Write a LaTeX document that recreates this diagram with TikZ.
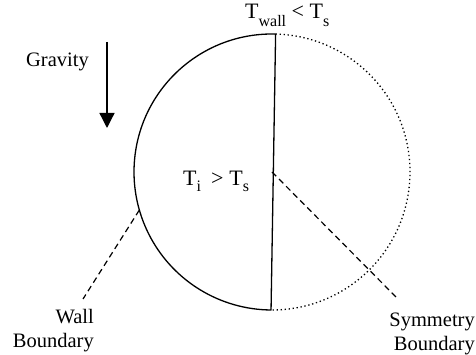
\documentclass[tikz,border=0pt]{standalone}
\usepackage{fontspec}
\setmainfont{Liberation Serif}
\usepackage{tikz}
\usetikzlibrary{arrows.meta,calc}

\newcommand{\subtxt}[2][6pt]{\raisebox{-#1}{\fontsize{16}{16}\selectfont #2}}

\begin{document}
\begin{tikzpicture}[x=1pt, y=1pt,
    label/.style={font=\fontsize{20.5}{24}\selectfont, inner sep=0pt},
    temp/.style={font=\fontsize{22}{24}\selectfont, inner sep=0pt},
    wallline/.style={line width=1.3pt, line join=round},
    symline/.style={line width=1.3pt, dash pattern=on 1.3pt off 2.7pt},
    lead/.style={line width=1.2pt, dash pattern=on 6pt off 4pt}]
    \useasboundingbox (0,0) rectangle (476,355);

    % Cross-section of the tube
    \coordinate (c) at (272,183);
    \coordinate (top) at ($(c)+(88.5:138pt)$);
    \draw[wallline] (top) arc[start angle=88.5, end angle=269.6, radius=138pt] -- cycle;
    \draw[symline] (top) arc[start angle=88.5, end angle=-90.4, radius=138pt];

    % Gravity arrow
    \coordinate (gtop) at (107,313);
    \coordinate (gtip) at (107,227);
    \draw[line width=1.3pt, -{Triangle[width=15pt, length=15pt]}] (gtop) -- (gtip);
    \node[label, anchor=base] (grav) at (57.5,288) {Gravity};

    % Temperatures
    \node[temp, anchor=base west] (twall) at (245,336) {T\subtxt[8pt]{wall} < T\subtxt[8pt]{s}};
    \node[temp, anchor=base west] (tin) at (183,169) {T\subtxt{i}\hspace{10pt}>\hspace{6pt}T\subtxt{s}};

    % Boundary labels
    \coordinate (wallfoot) at ($(c)+(196:138pt)$);
    \coordinate (wallend) at (83,56);
    \draw[lead] (wallfoot) -- (wallend);
    \node[label, align=right, anchor=north east] (walllab) at (94,46) {Wall\\Boundary};

    \coordinate (symend) at (396,58);
    \draw[lead] (c) -- (symend);
    \node[label, align=right, anchor=north east] (symlab) at (475,42) {Symmetry\\Boundary};
\end{tikzpicture}
\end{document}
